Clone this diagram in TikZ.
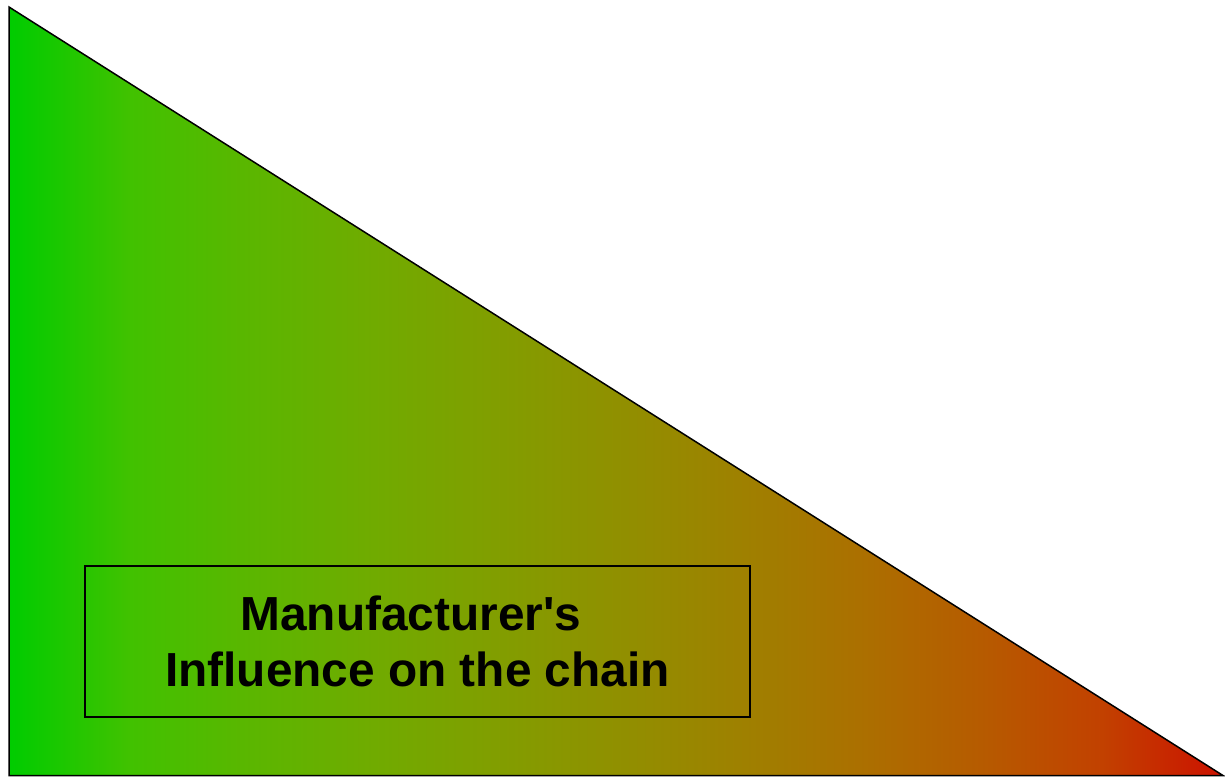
\documentclass[tikz,border=0pt]{standalone}
\usepackage{fontspec}
\setmainfont{Liberation Sans}
\pgfdeclarehorizontalshading{gradgr}{100bp}{%
rgb(0bp)=(0,0.8,0);
rgb(25bp)=(0,0.8,0);
rgb(30bp)=(0.255,0.76,0);
rgb(35bp)=(0.357,0.714,0);
rgb(40bp)=(0.439,0.671,0);
rgb(45bp)=(0.506,0.62,0);
rgb(50bp)=(0.565,0.565,0);
rgb(55bp)=(0.62,0.506,0);
rgb(60bp)=(0.671,0.439,0);
rgb(65bp)=(0.714,0.357,0);
rgb(70bp)=(0.76,0.255,0);
rgb(75bp)=(0.8,0.07,0);
rgb(100bp)=(0.8,0.07,0)}
\tikzset{
  tri/.style={draw=black, line width=1.5pt, line join=miter},
  labelbox/.style={draw=black, line width=1.8pt, minimum width=665pt, minimum height=151pt, inner sep=0pt},
  labeltext/.style={font=\fontsize{47.8}{56}\selectfont\bfseries, align=center, inner sep=0pt, text=black}
}
\begin{document}
\begin{tikzpicture}[x=1pt,y=1pt]
\useasboundingbox (0,0) rectangle (1225,-777);
\coordinate (A) at (9,-7);
\coordinate (B) at (9,-775.5);
\coordinate (C) at (1223,-775.5);
\shade[shading=gradgr] (A) -- (B) -- (C) -- cycle;
\draw[tri] (A) -- (B) -- (C) -- cycle;
\node[labelbox] (box) at (417.5,-641.5) {};
\node[labeltext] (txt) at (box.center) {Manufacturer\textquotesingle s\hspace*{0.278em}\\Influence on the chain};
\end{tikzpicture}
\end{document}
